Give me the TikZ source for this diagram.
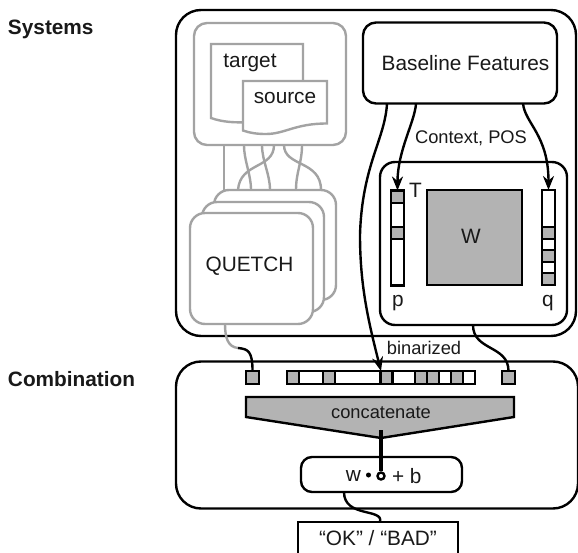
\documentclass[tikz,border=0pt]{standalone}
\usepackage{fontspec}
\setmainfont{Liberation Sans}
\usetikzlibrary{arrows.meta}
\definecolor{linegray}{HTML}{A3A3A3}
\definecolor{cellgray}{HTML}{B3B3B3}
\newcommand{\bigtxt}{\fontsize{20.8}{24}\selectfont}
\newcommand{\smalltxt}{\fontsize{18.3}{22}\selectfont}
\tikzset{
  blk/.style={draw=black,line width=2.4pt},
  gry/.style={draw=linegray,line width=2.4pt},
  boxn/.style={shape=rectangle,inner sep=0pt,outer sep=0pt,minimum width=#1},
  conn/.style={draw=black,line width=2.4pt},
  gconn/.style={draw=linegray,line width=2.4pt},
  arr/.style={draw=black,line width=2.4pt,-{Stealth[length=14pt,width=11pt]}},
  cell/.style={shape=rectangle,draw=black,line width=2.4pt,fill=cellgray,inner sep=0pt,outer sep=0pt},
  vbar/.style={shape=rectangle,draw=black,line width=2.4pt,fill=white,inner sep=0pt,outer sep=0pt,minimum width=13pt,minimum height=95pt},
  lab/.style={inner sep=0pt,outer sep=0pt,text=black!90},
}
\begin{document}
\begin{tikzpicture}[x=1pt,y=-1pt]
\useasboundingbox (0,0) rectangle (578,553);
% titles
\node[lab,anchor=west,font=\bigtxt\bfseries] (tsys) at (8,29) {Systems};
\node[lab,anchor=west,font=\bigtxt\bfseries] (tcomb) at (8,379) {Combination};
% outer containers
\node[blk,fill=white,rounded corners=25pt,boxn=400pt,minimum height=326pt] (sys) at (376,173) {};
\node[blk,fill=white,rounded corners=25pt,boxn=402pt,minimum height=147pt] (comb) at (377,435) {};
% gray corpus container
\node[gry,fill=white,rounded corners=13pt,boxn=152pt,minimum height=122pt] (corpus) at (270,84) {};
% gray wires
\coordinate (q3top) at (275,190);
\draw[gconn] ([xshift=-46pt]corpus.south) -- ([xshift=-51pt]q3top);
\draw[gconn] ([xshift=-26pt]corpus.south) .. controls +(0,16) and +(0,-16) .. ([xshift=-24pt]q3top);
\draw[gconn] ([xshift=-8pt]corpus.south) .. controls +(0,16) and +(0,-16) .. ([xshift=-5pt]q3top);
\draw[gconn] ([xshift=4pt]corpus.south) .. controls +(0,24) and +(2,-28) .. ([xshift=-37pt]q3top);
\draw[gconn] ([xshift=32pt]corpus.south) .. controls +(0,18) and +(0,-18) .. ([xshift=21pt]q3top);
\draw[gconn] ([xshift=14pt]corpus.south) .. controls +(0,22) and +(0,-30) .. ([xshift=46pt]q3top);
% documents
\draw[gry,fill=white,line join=miter] (211,44) -- (303,44) -- (303,90) -- (250,122) .. controls (235,123) and (222,122) .. (211,118) -- cycle;
\node[lab,font=\bigtxt] (target) at (250,63) {target};
\draw[gry,fill=white,line join=miter] (243,81) -- (327,81) -- (327,123.5) .. controls (295,123.5) and (285,134) .. (266,134) .. controls (257,134) and (250,133) .. (243,130.5) -- cycle;
\node[lab,font=\bigtxt] (source) at (285,98) {source};
% QUETCH stack
\node[gry,fill=white,rounded corners=15pt,boxn=122pt,minimum height=110pt] (q3) at (275,245) {};
\node[gry,fill=white,rounded corners=15pt,boxn=122pt,minimum height=110pt] (q2) at (263,257) {};
\node[gry,fill=white,rounded corners=15pt,boxn=123pt,minimum height=111pt] (quetch) at (251.5,268.5) {};
\node[lab,font=\bigtxt] (quetchl) at (249.5,266) {QUETCH};
% Baseline features
\node[blk,fill=white,rounded corners=13pt,boxn=194pt,minimum height=81pt] (base) at (460,63) {};
\node[lab,font=\bigtxt] (basel) at (465.5,63) {Baseline Features};
% matrix box
\node[blk,fill=white,rounded corners=15pt,boxn=187pt,minimum height=163pt] (mbox) at (473.5,243.5) {};
\node[cell,minimum width=95pt,minimum height=95pt] (W) at (474.5,237.5) {};
\node[lab,font=\bigtxt] (Wl) at (471,236.5) {W};
\node[vbar] (p) at (397.5,238) {};
\node[cell,minimum width=13pt,minimum height=12pt] (p1) at (397.5,197) {};
\node[cell,minimum width=13pt,minimum height=11.5pt] (p2) at (397.5,233) {};
\node[vbar] (q) at (548.5,237.5) {};
\node[cell,minimum width=13pt,minimum height=11.5pt] (q1) at (548.5,233) {};
\node[cell,minimum width=13pt,minimum height=11.5pt] (q2c) at (548.5,256) {};
\node[cell,minimum width=13pt,minimum height=11.5pt] (q3c) at (548.5,279) {};
\node[lab,font=\bigtxt] (tT) at (415.5,190) {T};
\node[lab,font=\bigtxt] (tp) at (398,303) {p};
\node[lab,font=\bigtxt] (tq) at (548,303) {q};
\node[lab,font=\smalltxt] (ctx) at (471,138) {Context, POS};
\node[lab,font=\smalltxt] (bin) at (424,348) {binarized};
% feature bar
\node[cell,minimum width=13pt,minimum height=13pt] (sl) at (252.5,377.5) {};
\node[cell,minimum width=13pt,minimum height=13pt] (sr) at (508.5,377.5) {};
\node[shape=rectangle,draw=black,line width=2.4pt,fill=white,inner sep=0pt,outer sep=0pt,minimum width=188pt,minimum height=13pt] (bar) at (381,377.5) {};
\node[cell,minimum width=12pt,minimum height=13pt] (b1) at (293,377.5) {};
\node[cell,minimum width=12pt,minimum height=13pt] (b2) at (329,377.5) {};
\node[cell,minimum width=12pt,minimum height=13pt] (b3) at (386.5,377.5) {};
\node[cell,minimum width=12pt,minimum height=13pt] (b4) at (421,377.5) {};
\node[cell,minimum width=12pt,minimum height=13pt] (b5) at (433,377.5) {};
\node[cell,minimum width=12pt,minimum height=13pt] (b6) at (457,377.5) {};
% concatenate
\path[blk,fill=cellgray,line join=miter] (246,397) -- (514,397) -- (514,417) -- (381,438) -- (246,417) -- cycle;
\node[lab,font=\smalltxt] (conc) at (381,413) {concatenate};
% classifier
\node[blk,fill=white,rounded corners=11pt,boxn=161pt,minimum height=35pt] (clf) at (381.5,474.5) {};
\node[lab,font=\bigtxt,anchor=east] (tw) at (361,476) {w};
\node[lab,font=\bigtxt,anchor=west] (tb) at (392,476) {+ b};
\node[shape=circle,fill=black,inner sep=0pt,minimum size=5pt] (dot) at (368.5,475) {};
\node[shape=circle,draw=black,line width=2.4pt,fill=white,inner sep=0pt,minimum size=7pt] (hole) at (381,476) {};
\coordinate (concin) at (381,430);
\draw[conn,line width=3.2pt] (concin) -- (hole.north);
% output
\node[blk,fill=white,boxn=160pt,minimum height=50pt,anchor=north] (out) at (378,522) {};
\node[lab,font=\bigtxt] (outt) at (378,538) {“OK” / “BAD”};
% connectors
\coordinate (qmid) at (238,348);
\draw[conn] ([xshift=-37.5pt]clf.south) .. controls +(0,26) and +(4,-14) .. ([xshift=2pt]out.north);
\draw[gconn] ([xshift=-26.5pt]quetch.south) .. controls +(0,14) and +(-10,-1) .. (qmid);
\draw[conn] (qmid) .. controls +(10,1) and +(0,-20) .. (sl.north);
\draw[conn] ([xshift=-0.5pt]mbox.south) .. controls +(0,26) and +(0,-26) .. (sr.north);
\draw[arr] ([xshift=-44pt]base.south) .. controls +(-1,18) and +(0,-40) .. (p.north);
\draw[arr] ([xshift=63pt]base.south) .. controls +(2,20) and +(0,-55) .. (q.north);
\coordinate (bend) at (360,235);
\draw[arr] ([xshift=-73pt]base.south) .. controls +(-2,36) and +(2,-70) .. (bend) .. controls +(0,50) and +(-13,-51) .. (b3.north -| 381,371);
\end{tikzpicture}
\end{document}
